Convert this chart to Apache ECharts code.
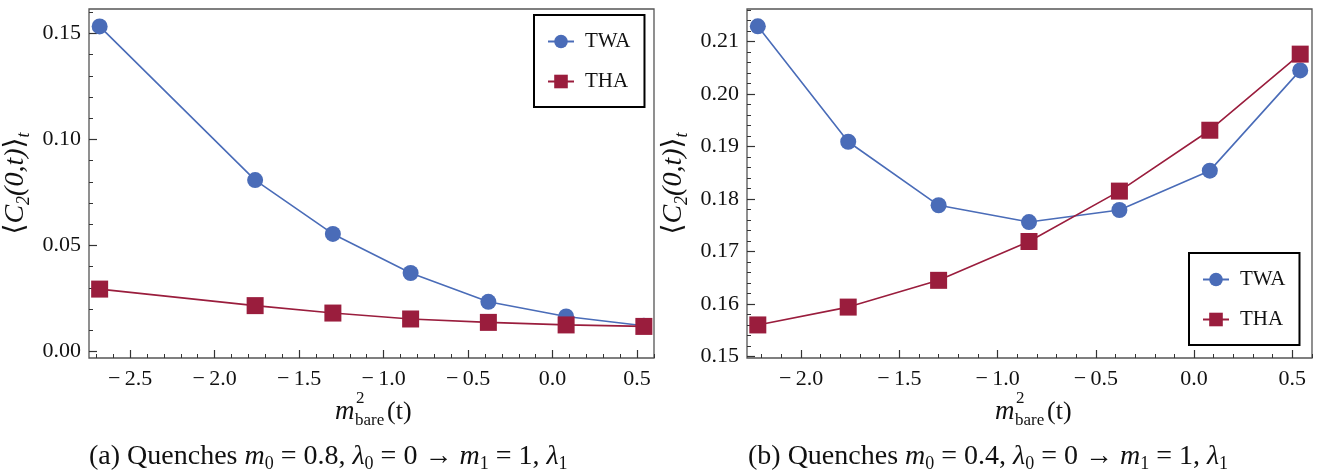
<!DOCTYPE html>
<html>
<head>
<meta charset="utf-8">
<script src="https://cdn.jsdelivr.net/npm/echarts@6/dist/echarts.min.js"></script>
<style>
  html, body { margin: 0; padding: 0; background: #fff; }
  #main { width: 1317px; height: 470px; }
</style>
</head>
<body>
<div id="main"></div>
<script>
// x positions (m^2_bare) of the quenches
var xA = [-2.68, -1.76, -1.30, -0.84, -0.38, 0.08, 0.54];
var xB = [-2.22, -1.76, -1.30, -0.84, -0.38, 0.08, 0.54];
// (a) m0 = 0.8
var twaA = [0.1533, 0.0808, 0.0554, 0.0370, 0.0234, 0.0165, 0.0121];
var thaA = [0.0294, 0.0216, 0.0181, 0.0153, 0.0137, 0.0125, 0.0118];
// (b) m0 = 0.4
var twaB = [0.2129, 0.1909, 0.1788, 0.1756, 0.1779, 0.1854, 0.2045];
var thaB = [0.1560, 0.1594, 0.1645, 0.1719, 0.1815, 0.1931, 0.2076];
// tick labels
var xTicksA = [-2.5, -2.0, -1.5, -1.0, -0.5, 0.0, 0.5];
var xTicksB = [-2.0, -1.5, -1.0, -0.5, 0.0, 0.5];
var yTicksA = [0.00, 0.05, 0.10, 0.15];
var yTicksB = [0.15, 0.16, 0.17, 0.18, 0.19, 0.20, 0.21];

var FONT = 'Liberation Serif, DejaVu Serif, serif';
var BLUE = '#4a6cb8';
var RED = '#9a1d3d';

function pairs(xs, ys) {
  var out = [];
  for (var i = 0; i < xs.length; i++) out.push([xs[i], ys[i]]);
  return out;
}
// minor ticks between the labelled ones
function minors(from, to, step, majors) {
  var out = [];
  var n = Math.round((to - from) / step);
  for (var i = 0; i <= n; i++) {
    var v = +(from + i * step).toFixed(6);
    var isMajor = majors.some(function (m) { return Math.abs(m - v) < step / 10; });
    if (!isMajor) out.push(v);
  }
  return out;
}
function fmt(d) {
  return function (v) {
    var s = Math.abs(v).toFixed(d);
    return v < -1e-9 ? '\u2212\u2009' + s : s;
  };
}

function majorX(grid, min, max, ticks) {
  return {
    type: 'value', gridIndex: grid, min: min, max: max, position: 'bottom',
    axisLine: { show: false, onZero: false }, splitLine: { show: false },
    axisTick: { show: true, inside: true, length: 8, customValues: ticks, lineStyle: { color: '#333', width: 1.2 } },
    axisLabel: { customValues: ticks, formatter: fmt(1), margin: 10, fontFamily: FONT, fontSize: 22, color: '#111' }
  };
}
function minorAxis(type, grid, min, max, vals) {
  return {
    type: 'value', gridIndex: grid, min: min, max: max, position: type === 'x' ? 'bottom' : 'left',
    axisLine: { show: false, onZero: false }, splitLine: { show: false }, axisLabel: { show: false },
    axisTick: { show: true, inside: true, length: 4, customValues: vals, lineStyle: { color: '#333', width: 1 } }
  };
}
function majorY(grid, min, max, ticks) {
  return {
    type: 'value', gridIndex: grid, min: min, max: max, position: 'left',
    axisLine: { show: false, onZero: false }, splitLine: { show: false },
    axisTick: { show: true, inside: true, length: 8, customValues: ticks, lineStyle: { color: '#333', width: 1.2 } },
    axisLabel: { customValues: ticks, formatter: fmt(2), margin: 8, fontFamily: FONT, fontSize: 22, color: '#111' },
    name: '{n|\u27e8}{c|C}{s|2}{c|(0,t)}{n|\u27e9}{s|t}',
    nameLocation: 'middle', nameRotate: 90, nameGap: 56,
    nameTextStyle: {
      fontFamily: FONT, fontSize: 28, color: '#111',
      rich: {
        n: { fontFamily: FONT, fontSize: 28, lineHeight: 34, color: '#111' },
        c: { fontFamily: FONT, fontSize: 28, fontStyle: 'italic', lineHeight: 34, color: '#111' },
        s: { fontFamily: FONT, fontSize: 18, fontStyle: 'italic', lineHeight: 18, verticalAlign: 'bottom', color: '#111' }
      }
    }
  };
}

var xMinA = -2.743, xMaxA = 0.6, xMinB = -2.275, xMaxB = 0.6;
var yMinA = -0.0031, yMaxA = 0.1615, yMinB = 0.1497, yMaxB = 0.2162;

function series(name, xi, data, sym, size, color) {
  return {
    name: name, type: 'line', xAxisIndex: xi, yAxisIndex: xi, data: data,
    symbol: sym, symbolSize: size, showSymbol: true,
    lineStyle: { color: color, width: 1.6 },
    itemStyle: { color: color, opacity: 1 },
    emphasis: { disabled: true }, animation: false
  };
}

function legend(left, top) {
  return {
    left: left, top: top, orient: 'vertical',
    data: ['TWA', 'THA'],
    borderColor: '#000', borderWidth: 2, borderRadius: 0,
    padding: [16, 14, 15, 13], itemGap: 19, itemWidth: 26, itemHeight: 17,
    textStyle: { fontFamily: FONT, fontSize: 21, color: '#111', padding: [0, 0, 0, 6] },
    selectedMode: false
  };
}

function xName(x0) {
  var y = 412;
  return {
    type: 'group', children: [
      { type: 'text', x: x0, y: y, style: { text: 'm', fontFamily: FONT, fontStyle: 'italic', fontSize: 27, fill: '#111', verticalAlign: 'middle' } },
      { type: 'text', x: x0 + 21, y: y - 13, style: { text: '2', fontFamily: FONT, fontSize: 17, fill: '#111', verticalAlign: 'middle' } },
      { type: 'text', x: x0 + 20, y: y + 9, style: { text: 'bare', fontFamily: FONT, fontSize: 17, fill: '#111', verticalAlign: 'middle' } },
      { type: 'text', x: x0 + 52, y: y, style: { text: '(t)', fontFamily: FONT, fontSize: 26, fill: '#111', verticalAlign: 'middle' } }
    ]
  };
}

var capRich = {
  r: { fontFamily: FONT, fontSize: 28, fontWeight: 'normal', color: '#111', lineHeight: 32 },
  i: { fontFamily: FONT, fontSize: 28, fontWeight: 'normal', fontStyle: 'italic', color: '#111', lineHeight: 32 },
  s: { fontFamily: FONT, fontSize: 18, fontWeight: 'normal', color: '#111', lineHeight: 16, verticalAlign: 'bottom' }
};

var myChart = echarts.init(document.getElementById('main'), null, { renderer: 'canvas' });
var option = {
  backgroundColor: '#fff',
  animation: false,
  title: [
    { text: '{r|(a) Quenches }{i|m}{s|0}{r| = 0.8, }{i|\u03bb}{s|0}{r| = 0 \u2192 }{i|m}{s|1}{r| = 1, }{i|\u03bb}{s|1}',
      left: 89, top: 441, padding: 0, textStyle: { fontWeight: 'normal', rich: capRich } },
    { text: '{r|(b) Quenches }{i|m}{s|0}{r| = 0.4, }{i|\u03bb}{s|0}{r| = 0 \u2192 }{i|m}{s|1}{r| = 1, }{i|\u03bb}{s|1}',
      left: 748, top: 441, padding: 0, textStyle: { fontWeight: 'normal', rich: capRich } }
  ],
  grid: [
    { left: 89, top: 9, width: 565, height: 349, show: true, borderColor: '#555', borderWidth: 1.3, backgroundColor: 'transparent' },
    { left: 747, top: 9, width: 565, height: 349, show: true, borderColor: '#555', borderWidth: 1.3, backgroundColor: 'transparent' }
  ],
  xAxis: [
    majorX(0, xMinA, xMaxA, xTicksA),
    minorAxis('x', 0, xMinA, xMaxA, minors(-2.7, 0.6, 0.1, xTicksA)),
    majorX(1, xMinB, xMaxB, xTicksB),
    minorAxis('x', 1, xMinB, xMaxB, minors(-2.2, 0.6, 0.1, xTicksB))
  ],
  yAxis: [
    majorY(0, yMinA, yMaxA, yTicksA),
    minorAxis('y', 0, yMinA, yMaxA, minors(0, 0.16, 0.01, yTicksA)),
    majorY(1, yMinB, yMaxB, yTicksB),
    minorAxis('y', 1, yMinB, yMaxB, minors(0.15, 0.216, 0.002, yTicksB))
  ],
  legend: [legend(534, 15), legend(1189, 253)],
  graphic: [xName(335), xName(995)],
  series: [
    series('TWA', 0, pairs(xA, twaA), 'circle', 16, BLUE),
    series('THA', 0, pairs(xA, thaA), 'rect', 17, RED),
    series('TWA', 2, pairs(xB, twaB), 'circle', 16, BLUE),
    series('THA', 2, pairs(xB, thaB), 'rect', 17, RED)
  ]
};
myChart.setOption(option);
</script>
</body>
</html>
